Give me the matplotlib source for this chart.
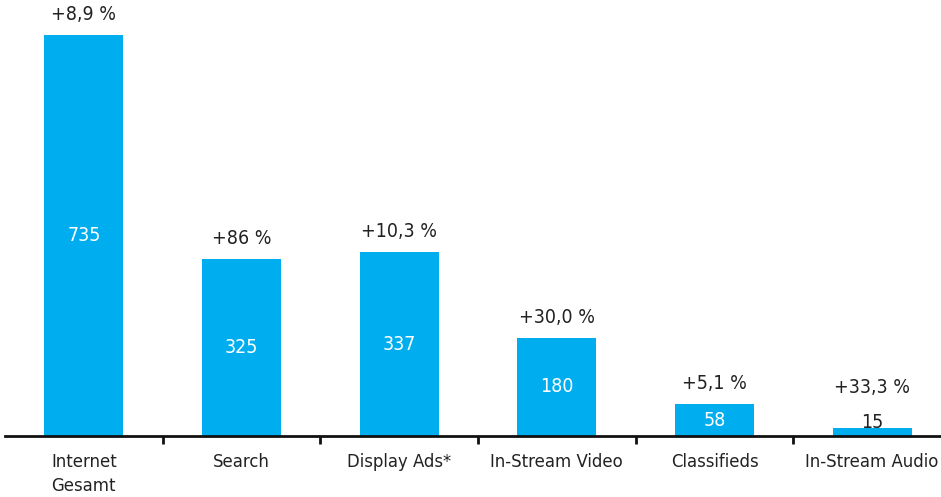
import numpy as np
import matplotlib.pyplot as plt

categories = ['Internet\nGesamt', 'Search', 'Display Ads*', 'In-Stream Video', 'Classifieds', 'In-Stream Audio']
values = [735, 325, 337, 180, 58, 15]
growth = ['+8,9 %', '+86 %', '+10,3 %', '+30,0 %', '+5,1 %', '+33,3 %']

plt.rcParams['font.family'] = ['DejaVu Sans']
plt.rcParams['font.stretch'] = 'condensed'

fig = plt.figure(figsize=(9.41, 4.97), dpi=100)
ax = fig.add_axes([5 / 941, 61 / 497, 946 / 941, 436 / 497])

x = np.arange(len(values))
ax.bar(x, values, width=0.5, color='#00aeef')
ax.set_xlim(-0.5, 5.5)
ax.set_ylim(0, 799)

for xi, v, g in zip(x, values, growth):
    if v > 40:
        ax.text(xi, v / 2, str(v), ha='center', va='center', color='white', fontsize=14)
        ax.annotate(g, (xi, v), xytext=(0, 8), textcoords='offset points',
                    ha='center', va='bottom', color='#222222', fontsize=14)
    else:
        ax.annotate(str(v), (xi, v), xytext=(0, -3), textcoords='offset points',
                    ha='center', va='bottom', color='#222222', fontsize=14)
        ax.annotate(g, (xi, v), xytext=(0, 22), textcoords='offset points',
                    ha='center', va='bottom', color='#222222', fontsize=14)

for s in ['top', 'right', 'left']:
    ax.spines[s].set_visible(False)
ax.spines['bottom'].set_linewidth(2)
ax.spines['bottom'].set_color('#111111')
ax.set_yticks([])

ax.set_xticks(x)
ax.set_xticklabels(categories, fontsize=13.2, color='#222222', linespacing=1.45)
ax.tick_params(axis='x', which='major', length=0, pad=12)
ax.set_xticks(x[:-1] + 0.5, minor=True)
ax.tick_params(axis='x', which='minor', length=6, width=2, color='#111111', direction='out')

fig.savefig('out.png', dpi=100)
